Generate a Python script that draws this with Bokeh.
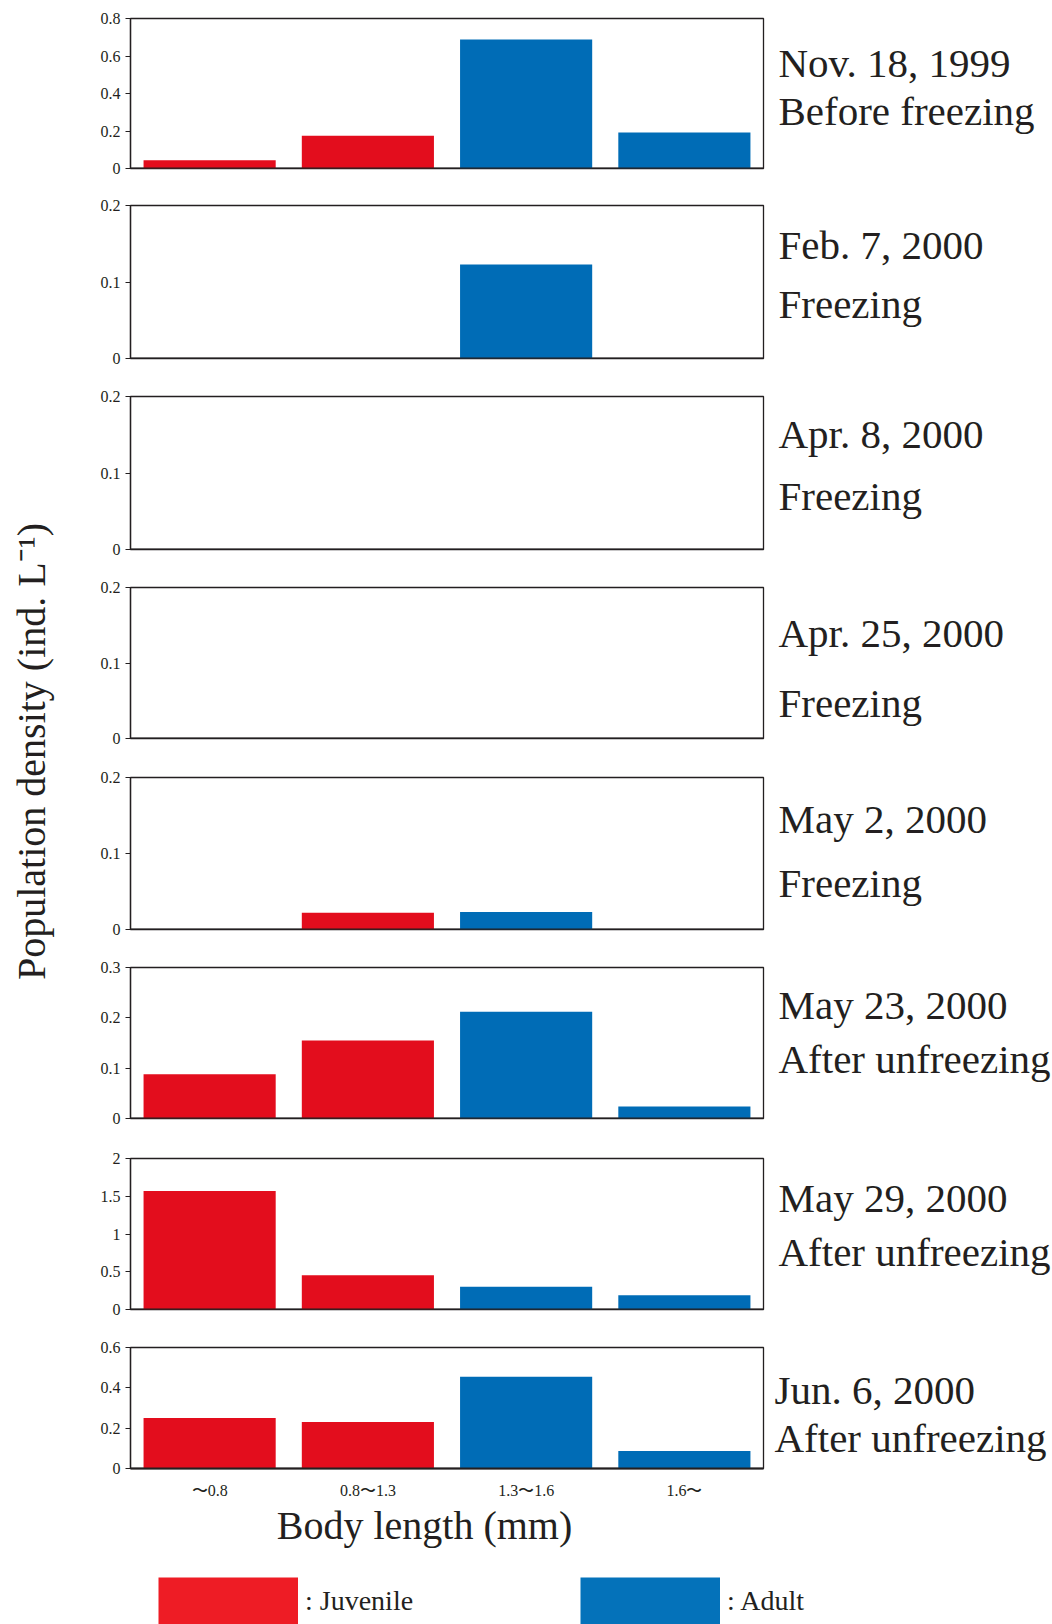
import math

from bokeh.plotting import figure
from bokeh.models import (Range1d, FactorRange, FixedTicker, Label, Legend,
                          LegendItem, ColumnDataSource, CustomJSTickFormatter,
                          Span)
from bokeh.layouts import row, column
from bokeh.embed import file_html
from bokeh.resources import INLINE
from bokeh.transform import factor_cmap

# ---- data -----------------------------------------------------------------
size_classes = ["〜0.8", "0.8〜1.3", "1.3〜1.6", "1.6〜"]
stages = ["Juvenile", "Juvenile", "Adult", "Adult"]

dates = ["Nov. 18, 1999", "Feb. 7, 2000", "Apr. 8, 2000", "Apr. 25, 2000",
         "May 2, 2000", "May 23, 2000", "May 29, 2000", "Jun. 6, 2000"]
conditions = ["Before freezing", "Freezing", "Freezing", "Freezing",
              "Freezing", "After unfreezing", "After unfreezing", "After unfreezing"]

nov18 = [0.044, 0.175, 0.688, 0.192]
feb07 = [0.0, 0.0, 0.123, 0.0]
apr08 = [0.0, 0.0, 0.0, 0.0]
apr25 = [0.0, 0.0, 0.0, 0.0]
may02 = [0.0, 0.022, 0.023, 0.0]
may23 = [0.088, 0.155, 0.212, 0.024]
may29 = [1.57, 0.455, 0.30, 0.19]
jun06 = [0.25, 0.23, 0.455, 0.087]
densities = [nov18, feb07, apr08, apr25, may02, may23, may29, jun06]

y_max = [0.8, 0.2, 0.2, 0.2, 0.2, 0.3, 2, 0.6]
y_ticks = [[0, 0.2, 0.4, 0.6, 0.8],
           [0, 0.1, 0.2],
           [0, 0.1, 0.2],
           [0, 0.1, 0.2],
           [0, 0.1, 0.2],
           [0, 0.1, 0.2, 0.3],
           [0, 0.5, 1, 1.5, 2],
           [0, 0.2, 0.4, 0.6]]

# ---- styling / page geometry ----------------------------------------------
INK = "#231f20"
STAGE_COLORS = ["#e30d1d", "#006cb6"]
KEY_COLORS = ["#ee1c25", "#0472ba"]
SERIF = "Liberation Serif"

PAGE_W, PAGE_H = 1052, 1624
TITLE_W = 60                 # left strip holding the vertical y title
PANEL_R = 765                # right edge of the panel column
FRAME_L, FRAME_R = 130, 763
frame_top = [18, 205, 396, 587, 777, 967, 1158, 1347]
frame_h = [150, 153, 153, 151, 152, 151, 151, 121]
cuts = [0, 186, 377, 568, 757, 948, 1138, 1328, 1502]
UPPER_H = cuts[-1]
text_x = [778, 778, 778, 778, 778, 778, 778, 774]
text_y = [(62, 110), (244, 303), (433, 495), (632, 702),
          (818, 882), (1004, 1058), (1197, 1251), (1389, 1437)]

tick_fmt = CustomJSTickFormatter(code="return String(tick)")
stage_fill = factor_cmap("stage", STAGE_COLORS, ["Juvenile", "Adult"])


def blank(fig):
    fig.axis.visible = False
    fig.grid.visible = False
    fig.outline_line_color = None
    fig.background_fill_color = "white"
    fig.border_fill_color = "white"


panels = []
sources = []
last = len(densities) - 1
for i, vals in enumerate(densities):
    fig_h = cuts[i + 1] - cuts[i]
    top_b = frame_top[i] - cuts[i]
    bot_b = fig_h - top_b - frame_h[i]
    p = figure(width=PANEL_R - TITLE_W, height=fig_h,
               x_range=FactorRange(*size_classes, range_padding=0),
               y_range=Range1d(0, y_max[i]),
               output_backend="svg", toolbar_location=None,
               min_border_left=FRAME_L - TITLE_W,
               min_border_right=PANEL_R - FRAME_R,
               min_border_top=top_b, min_border_bottom=bot_b)
    p.background_fill_color = "white"
    p.border_fill_color = "white"
    p.outline_line_color = INK
    p.outline_line_width = 1.3
    p.xgrid.visible = False
    p.ygrid.visible = False

    src = ColumnDataSource(dict(size=size_classes, density=vals, stage=stages))
    sources.append(src)
    p.vbar(x="size", top="density", width=0.835, source=src,
           line_color=None, fill_color=stage_fill)

    ya = p.yaxis[0]
    ya.ticker = FixedTicker(ticks=y_ticks[i])
    ya.formatter = tick_fmt
    ya.minor_tick_line_color = None
    ya.major_tick_in = 0
    ya.major_tick_out = 5
    ya.major_label_standoff = 5
    ya.axis_line_color = INK
    ya.axis_line_width = 1.3
    ya.major_tick_line_color = INK
    ya.major_label_text_font = SERIF
    ya.major_label_text_font_size = "16px"
    ya.major_label_text_color = INK

    if i < last:
        p.xaxis.visible = False
        p.add_layout(Span(location=0, dimension="width", line_color=INK,
                          line_width=2))
    else:
        xa = p.xaxis[0]
        xa.axis_line_color = INK
        xa.axis_line_width = 2
        xa.major_tick_in = 0
        xa.major_tick_out = 0
        xa.major_tick_line_color = None
        xa.minor_tick_line_color = None
        xa.major_label_text_font = SERIF
        xa.major_label_text_color = INK
        xa.major_label_text_font_size = "16px"
        xa.major_label_standoff = 13
    panels.append(p)

# vertical y-axis title in its own strip
t = figure(width=TITLE_W, height=UPPER_H, output_backend="svg",
           toolbar_location=None, x_range=Range1d(0, 1), y_range=Range1d(0, 1),
           min_border=0)
blank(t)
t.add_layout(Label(x=31, y=UPPER_H - 751, x_units="screen", y_units="screen",
                   text="Population density (ind. L⁻¹)", angle=math.pi / 2,
                   text_font=SERIF, text_font_size="40px", text_color=INK,
                   text_align="center", text_baseline="middle"))

# sampling dates and conditions to the right of each panel
side = figure(width=PAGE_W - PANEL_R, height=UPPER_H, output_backend="svg",
              toolbar_location=None, x_range=Range1d(0, 1), y_range=Range1d(0, 1),
              min_border=0)
blank(side)
for i in range(len(dates)):
    for txt, yy in zip((dates[i], conditions[i]), text_y[i]):
        side.add_layout(Label(x=text_x[i] - PANEL_R, y=UPPER_H - yy,
                              x_units="screen", y_units="screen", text=txt,
                              text_font=SERIF, text_font_size="41px",
                              text_color=INK, text_align="left",
                              text_baseline="middle"))

# full-width strip at the bottom: x axis title and the stage key
key = figure(width=PAGE_W, height=PAGE_H - UPPER_H,
             x_range=FactorRange(*size_classes), y_range=Range1d(10, 11),
             output_backend="svg", toolbar_location=None, min_border=0)
blank(key)
# zero-length segments on the last panel's data; they only supply key swatches
key_r = key.segment(x0="size", y0="density", x1="size", y1="density",
                    source=sources[-1], line_width=47, line_cap="butt",
                    line_color=factor_cmap("stage", KEY_COLORS, ["Juvenile", "Adult"]))
key.add_layout(Label(x=424, y=PAGE_H - 1525, x_units="screen", y_units="screen",
                     text="Body length (mm)", text_font=SERIF,
                     text_font_size="40px", text_color=INK,
                     text_align="center", text_baseline="middle"))
for label, idx, left in ((": Juvenile", 0, 158), (": Adult", 2, 580)):
    key.add_layout(Legend(items=[LegendItem(label=label, renderers=[key_r], index=idx)],
                          location=(left, 0),
                          glyph_width=140, glyph_height=47, label_standoff=7,
                          label_text_font=SERIF, label_text_font_size="28px",
                          label_text_color=INK,
                          padding=0, margin=0, spacing=0,
                          border_line_color=None, background_fill_alpha=0))

layout = column(row(t, column(*panels, spacing=0), side, spacing=0), key, spacing=0)

with open("out.html", "w") as f:
    f.write(file_html(layout, INLINE, title="Population density by body length"))
